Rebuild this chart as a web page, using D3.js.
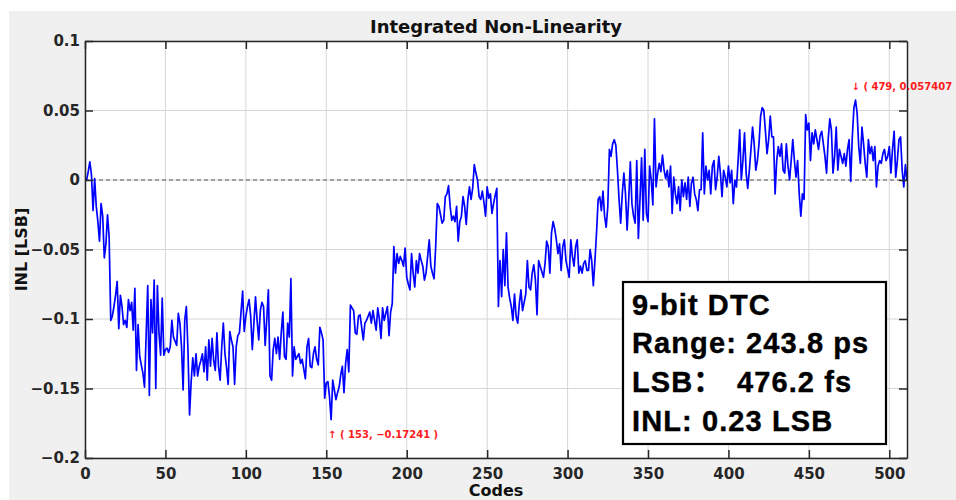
<!DOCTYPE html>
<html><head><meta charset="utf-8">
<script src="https://cdn.jsdelivr.net/npm/d3@7"></script>
<style>body{margin:0;background:#fff}svg{display:block}</style>
</head><body>
<svg id="chart" width="956" height="500"></svg>
<script>
// ---- data ----
const inl = [
 0.000, 0.000, 0.006, 0.013, 0.004,-0.022, 0.001,-0.019,-0.030,-0.044,
-0.017,-0.026,-0.056,-0.046,-0.025,-0.041,-0.101,-0.098,-0.091,-0.083,
-0.073,-0.107,-0.083,-0.091,-0.104,-0.101,-0.106,-0.086,-0.094,-0.088,
-0.108,-0.078,-0.137,-0.104,-0.127,-0.133,-0.139,-0.149,-0.112,-0.076,
-0.155,-0.086,-0.110,-0.072,-0.150,-0.076,-0.110,-0.126,-0.085,-0.126,
-0.122,-0.121,-0.124,-0.120,-0.101,-0.113,-0.116,-0.119,-0.096,-0.103,
-0.120,-0.151,-0.101,-0.091,-0.122,-0.169,-0.145,-0.128,-0.141,-0.125,
-0.141,-0.134,-0.130,-0.125,-0.138,-0.120,-0.144,-0.115,-0.134,-0.114,
-0.130,-0.137,-0.110,-0.134,-0.144,-0.120,-0.103,-0.125,-0.135,-0.147,
-0.109,-0.115,-0.120,-0.147,-0.120,-0.112,-0.110,-0.095,-0.080,-0.109,
-0.098,-0.091,-0.086,-0.098,-0.122,-0.103,-0.084,-0.101,-0.115,-0.094,
-0.088,-0.091,-0.119,-0.100,-0.079,-0.141,-0.144,-0.122,-0.114,-0.125,
-0.113,-0.129,-0.110,-0.095,-0.127,-0.129,-0.103,-0.113,-0.071,-0.141,
-0.120,-0.129,-0.127,-0.125,-0.132,-0.129,-0.136,-0.143,-0.120,-0.114,
-0.134,-0.135,-0.125,-0.120,-0.129,-0.133,-0.106,-0.110,-0.115,-0.157,
-0.146,-0.145,-0.156,-0.17241,-0.144,-0.151,-0.158,-0.153,-0.149,-0.140,
-0.134,-0.153,-0.132,-0.122,-0.138,-0.090,-0.092,-0.094,-0.110,-0.111,
-0.098,-0.097,-0.106,-0.115,-0.103,-0.101,-0.098,-0.095,-0.103,-0.094,
-0.101,-0.108,-0.092,-0.100,-0.114,-0.092,-0.101,-0.096,-0.091,-0.112,
-0.095,-0.089,-0.048,-0.067,-0.053,-0.060,-0.055,-0.058,-0.062,-0.049,
-0.070,-0.075,-0.079,-0.053,-0.067,-0.077,-0.058,-0.067,-0.053,-0.058,
-0.062,-0.072,-0.067,-0.055,-0.043,-0.062,-0.067,-0.071,-0.048,-0.017,
-0.019,-0.025,-0.031,-0.029,-0.012,-0.010,-0.004,-0.019,-0.029,-0.026,
-0.030,-0.019,-0.044,-0.030,-0.026,-0.012,-0.019,-0.032,-0.014,-0.005,
-0.014,-0.006, 0.011, 0.005, 0.000,-0.012,-0.014,-0.008,-0.016,-0.026,
-0.005,-0.013,-0.010,-0.024,-0.017,-0.011,-0.006,-0.091,-0.058,-0.084,
-0.050,-0.076,-0.038,-0.077,-0.085,-0.091,-0.101,-0.082,-0.098,-0.103,
-0.089,-0.079,-0.094,-0.088,-0.082,-0.058,-0.077,-0.079,-0.067,-0.061,
-0.072,-0.097,-0.058,-0.062,-0.066,-0.070,-0.060,-0.044,-0.048,-0.067,
-0.038,-0.030,-0.035,-0.043,-0.053,-0.046,-0.065,-0.048,-0.043,-0.058,
-0.064,-0.070,-0.043,-0.055,-0.062,-0.048,-0.043,-0.067,-0.062,-0.067,
-0.060,-0.058,-0.065,-0.065,-0.050,-0.058,-0.076,-0.058,-0.038,-0.014,
-0.012,-0.022,-0.008,-0.026,-0.034,-0.019, 0.022, 0.017, 0.026, 0.029,
 0.025, 0.007,-0.014,-0.031,-0.010, 0.005,-0.010,-0.036,-0.014, 0.013,
-0.017,-0.026,-0.031, 0.014,-0.042,-0.014, 0.016,-0.029, 0.022,-0.024,
-0.030, 0.010, 0.000,-0.018, 0.044,-0.005, 0.005, 0.012, 0.006, 0.018,
 0.007, 0.001, 0.007,-0.005, 0.010,-0.024, 0.002,-0.010,-0.017,-0.005,
-0.022, 0.000,-0.012,-0.002,-0.014, 0.002,-0.019,-0.002, 0.002,-0.010,
-0.014,-0.022,-0.007,-0.007, 0.034,-0.010, 0.010, 0.000, 0.007,-0.010,
 0.010, 0.014,-0.007, 0.002, 0.017, 0.005,-0.012, 0.007, 0.002,-0.005,
 0.010,-0.002, 0.007,-0.017, 0.000,-0.005, 0.014, 0.036, 0.000, 0.014,
 0.034, 0.005,-0.006, 0.007, 0.022, 0.038, 0.026, 0.007, 0.014, 0.026,
 0.046, 0.052, 0.050, 0.035, 0.019, 0.029, 0.046, 0.031, 0.031,-0.010,
 0.014, 0.024, 0.017, 0.026, 0.007, 0.005, 0.026, 0.010, 0.000, 0.014,
 0.029, 0.014, 0.002, 0.014,-0.010,-0.026,-0.010,-0.014, 0.047, 0.036,
 0.041, 0.014, 0.034, 0.026, 0.036, 0.029, 0.022, 0.032, 0.035, 0.026,
 0.017, 0.005, 0.029, 0.044, 0.036, 0.005, 0.017, 0.038, 0.007, 0.022,
 0.017, 0.012, 0.019, 0.010, 0.022, 0.029,-0.001, 0.031, 0.052, 0.057407,
 0.048, 0.024, 0.012, 0.038, 0.026, 0.012, 0.002, 0.029, 0.019, 0.024,
 0.014, 0.024,-0.005, 0.010, 0.014, 0.012, 0.019, 0.022, 0.014, 0.017,
 0.024, 0.005, 0.022, 0.035, 0.002, 0.014, 0.029, 0.031, 0.007,-0.005,
 0.011, 0.000
];
const codes = inl.map((_, i) => i);
const xTicks = [0, 50, 100, 150, 200, 250, 300, 350, 400, 450, 500];
const xTickLabels = ["0","50","100","150","200","250","300","350","400","450","500"];
const yTicks = [-0.2, -0.15, -0.1, -0.05, 0, 0.05, 0.1];
const yTickLabels = ["\u22120.2","\u22120.15","\u22120.1","\u22120.05","0","0.05","0.1"];
const xDomain = [0, 511];
const yDomain = [-0.2, 0.1];
const titleText = "Integrated Non-Linearity";
const xLabelText = "Codes";
const yLabelText = "INL [LSB]";
const maxCode = 479, maxValue = 0.057407;
const minCode = 153, minValue = -0.17241;
const maxLabel = "\u2193 ( 479, 0.057407";
const minLabel = "\u2191 ( 153, \u22120.17241 )";
const boxLine1 = "9-bit DTC";
const boxLine2 = "Range: 243.8 ps";
const boxLine3a = "LSB\uFF1A";
const boxLine3b = "476.2 fs";
const boxLine4 = "INL: 0.23 LSB";

// ---- layout ----
const L = 85, R = 907, T = 41, B = 458;
const svg = d3.select("#chart");
const x = d3.scaleLinear().domain(xDomain).range([L, R]);
const y = d3.scaleLinear().domain(yDomain).range([B, T]);
const dark = "#262626";
const tickFont = "'DejaVu Sans', Verdana, sans-serif";

// figure background
svg.append("rect").attr("x", 0).attr("y", 0).attr("width", 956).attr("height", 500).attr("fill", "#ffffff");
svg.append("rect").attr("x", 9).attr("y", 11).attr("width", 947).attr("height", 489).attr("fill", "#f0f0f0");
// axes background
svg.append("rect").attr("x", L).attr("y", T).attr("width", R - L).attr("height", B - T).attr("fill", "#ffffff");

// grid
const grid = svg.append("g").attr("stroke", "#d6d6d6").attr("stroke-width", 1);
grid.selectAll("line.gx").data(xTicks).join("line")
  .attr("x1", d => x(d)).attr("x2", d => x(d)).attr("y1", T).attr("y2", B);
grid.selectAll("line.gy").data(yTicks).join("line")
  .attr("x1", L).attr("x2", R).attr("y1", d => y(d)).attr("y2", d => y(d));

// zero reference line (dashed)
svg.append("line").attr("x1", L).attr("x2", R).attr("y1", y(0)).attr("y2", y(0))
  .attr("stroke", "#555").attr("stroke-width", 1).attr("stroke-dasharray", "4,3");

// data line
svg.append("clipPath").attr("id", "clip").append("rect")
  .attr("x", L).attr("y", T).attr("width", R - L).attr("height", B - T);
const line = d3.line().x(d => x(d)).y(d => y(inl[d]));
svg.append("path").datum(codes).attr("clip-path", "url(#clip)")
  .attr("d", line).attr("fill", "none").attr("stroke", "#0000ff")
  .attr("stroke-width", 1.7).attr("stroke-linejoin", "round");

// axes
function styleAxis(g) {
  g.selectAll("path.domain").attr("stroke", dark).attr("stroke-width", 1.5);
  g.selectAll(".tick line").attr("stroke", dark).attr("stroke-width", 1.5);
  g.selectAll(".tick text").attr("fill", dark).attr("font-family", tickFont)
    .attr("font-size", 15).attr("font-weight", "bold");
}
svg.append("g").attr("transform", `translate(0,${B})`)
  .call(d3.axisBottom(x).tickValues(xTicks).tickFormat((d, i) => xTickLabels[i])
    .tickSizeInner(-8).tickSizeOuter(0).tickPadding(10))
  .call(g => g.attr("font-size", 15)).call(styleAxis);
svg.append("g").attr("transform", `translate(0,${T})`)
  .call(d3.axisTop(x).tickValues(xTicks).tickFormat("").tickSizeInner(-8).tickSizeOuter(0))
  .call(styleAxis);
svg.append("g").attr("transform", `translate(${L},0)`)
  .call(d3.axisLeft(y).tickValues(yTicks).tickFormat((d, i) => yTickLabels[i])
    .tickSizeInner(-8).tickSizeOuter(0).tickPadding(5))
  .call(styleAxis);
svg.append("g").attr("transform", `translate(${R},0)`)
  .call(d3.axisRight(y).tickValues(yTicks).tickFormat("").tickSizeInner(-8).tickSizeOuter(0))
  .call(styleAxis);

// title & labels
svg.append("text").attr("x", (L + R) / 2).attr("y", 33).attr("text-anchor", "middle")
  .attr("font-family", tickFont).attr("font-weight", "bold").attr("font-size", 18)
  .attr("fill", "#111").text(titleText);
svg.append("text").attr("x", (L + R) / 2).attr("y", 496).attr("text-anchor", "middle")
  .attr("font-family", tickFont).attr("font-weight", "bold").attr("font-size", 16)
  .attr("fill", "#111").text(xLabelText);
svg.append("text").attr("transform", `translate(27,${(T + B) / 2}) rotate(-90)`)
  .attr("text-anchor", "middle")
  .attr("font-family", tickFont).attr("font-weight", "bold").attr("font-size", 16)
  .attr("fill", "#111").text(yLabelText);

// extreme annotations
const annFont = tickFont;
svg.append("text").attr("x", x(maxCode) - 4).attr("y", y(maxValue) - 10)
  .attr("font-family", annFont).attr("font-size", 10).attr("font-weight", "bold")
  .attr("fill", "#ff1a1a").text(maxLabel);
svg.append("text").attr("x", x(minCode) - 3).attr("y", y(minValue) + 18)
  .attr("font-family", annFont).attr("font-size", 10).attr("font-weight", "bold")
  .attr("fill", "#ff1a1a").text(minLabel);

// info box
const bx = 623, by = 282, bw = 263, bh = 162;
svg.append("rect").attr("x", bx).attr("y", by).attr("width", bw).attr("height", bh)
  .attr("fill", "#fff").attr("stroke", "#000").attr("stroke-width", 2.2);
const boxFont = "'Liberation Sans', Arial, 'Noto Sans CJK SC', sans-serif";
const bt = svg.append("text").attr("font-family", boxFont).attr("font-weight", "bold")
  .attr("font-size", 29).attr("letter-spacing", 1.1).attr("fill", "#000")
  .attr("stroke", "#000").attr("stroke-width", 0.4);
bt.append("tspan").attr("x", 632).attr("y", 315).text(boxLine1);
bt.append("tspan").attr("x", 632).attr("y", 353).text(boxLine2);
bt.append("tspan").attr("x", 632).attr("y", 392).text(boxLine3a);
bt.append("tspan").attr("x", 737).attr("y", 392).text(boxLine3b);
bt.append("tspan").attr("x", 632).attr("y", 431).text(boxLine4);
</script>
</body></html>
